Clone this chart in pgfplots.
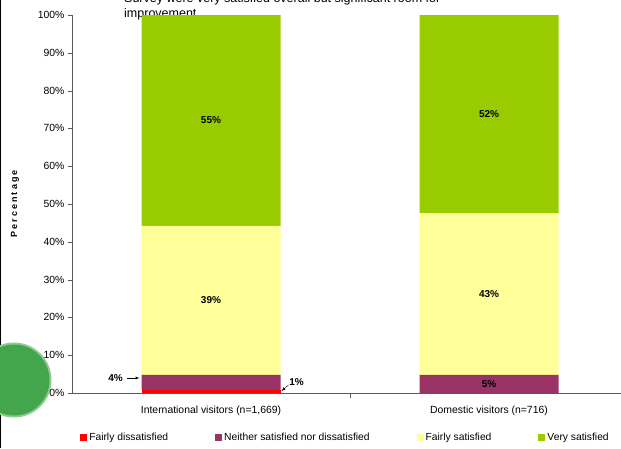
\documentclass[border=0pt]{standalone}
\usepackage{pgfplots}
\pgfplotsset{compat=1.18}
\usepackage{fontspec}
\setmainfont{Liberation Sans}
\newfontfamily\spaced[LetterSpace=24]{Liberation Sans}
\definecolor{fdis}{HTML}{FF0000}
\definecolor{neith}{HTML}{993366}
\definecolor{fsat}{HTML}{FFFF99}
\definecolor{vsat}{HTML}{99CC00}
\definecolor{blob}{HTML}{43A64D}
\pgfplotsset{
  sqleg/.style={legend image code/.code={\fill[##1] (0pt,-3.5pt) rectangle (7pt,3.5pt);}},
}
\tikzset{lbl/.style={font=\fontsize{10}{12}\selectfont\bfseries}}

\begin{document}
\begin{tikzpicture}
\useasboundingbox (-72pt,-55pt) rectangle (549pt,393pt);
\clip (-72pt,-55pt) rectangle (549pt,393pt);
% stray slide bits behind the chart
\draw[black, line width=1.5pt] (-71.25pt,-55pt) -- (-71.25pt,393pt);
\fill[blob!60] (-58pt,13pt) circle (37.5pt);
\fill[blob] (-58pt,13pt) circle (35.5pt);
\node[anchor=base west, inner sep=0, font=\fontsize{12.5}{15}\selectfont] at (52pt,390pt)
  {Survey were very satisfied overall but significant room for};
\node[anchor=base west, inner sep=0, font=\fontsize{12.5}{15}\selectfont] at (52pt,375pt)
  {improvement};

\begin{axis}[
  scale only axis, width=549pt, height=378pt,
  xmin=-0.5, xmax=1.4748, ymin=0, ymax=100,
  clip=false,
  ybar stacked, bar width=139pt,
  axis lines=left, axis line style={-, black!65},
  ytick={0,10,...,100},
  yticklabel={\pgfmathprintnumber[assume math mode=true]{\tick}\%},
  ytick style={black!65},
  major tick length=4pt,
  tick align=outside,
  xtick={0,1},
  xticklabels={{International visitors (n=1,669)},{Domestic visitors (n=716)}},
  xtick style={draw=none},
  xticklabel style={yshift=-5pt},
  tick label style={font=\fontsize{10.4}{12}\selectfont},
  ylabel={Percentage},
  ylabel style={font=\fontsize{9}{11}\selectfont\spaced\bfseries, at={(axis description cs:-0.1038,0.5)}, anchor=center},
  legend columns=4,
  legend style={draw=none, fill=none, font=\fontsize{10.3}{12}\selectfont,
    at={(axis description cs:0.0092,-0.119)}, anchor=west,
    /tikz/every even column/.append style={column sep=45pt}},
]
\addplot[fill=fdis, draw=none, sqleg] coordinates {(0,0.8) (1,0)};
\addplot[fill=neith, draw=none, sqleg] coordinates {(0,4.0) (1,4.8)};
\addplot[fill=fsat, draw=none, sqleg] coordinates {(0,39.4) (1,42.8)};
\addplot[fill=vsat, draw=none, sqleg] coordinates {(0,55.8) (1,52.4)};
\legend{Fairly dissatisfied, Neither satisfied nor dissatisfied, Fairly satisfied, Very satisfied}

\draw[black!65] (axis cs:0.5,0) -- (axis cs:0.5,-1.32);
\coordinate (iv) at (axis cs:0,72.1);
\coordinate (if) at (axis cs:0,24.5);
\coordinate (dv) at (axis cs:1,73.8);
\coordinate (df) at (axis cs:1,26.2);
\coordinate (dn) at (axis cs:1,2.4);
\coordinate (in) at (axis cs:-0.3435,3.97);
\coordinate (id) at (axis cs:0.3076,3.0);
\coordinate (a1) at (axis cs:-0.302,3.97);
\coordinate (a2) at (axis cs:-0.257,3.97);
\coordinate (b1) at (axis cs:0.2788,2.12);
\coordinate (b2) at (axis cs:0.2536,0.53);
\end{axis}
% value labels on top of the bars
\node[lbl] at (iv) {55\%};
\node[lbl] at (if) {39\%};
\node[lbl] at (dv) {52\%};
\node[lbl] at (df) {43\%};
\node[lbl] at (dn) {5\%};
\node[lbl] at (in) {4\%};
\node[lbl] at (id) {1\%};
\draw[-latex, thin] (a1) -- (a2);
\draw[-latex, thin] (b1) -- (b2);
\end{tikzpicture}
\end{document}
